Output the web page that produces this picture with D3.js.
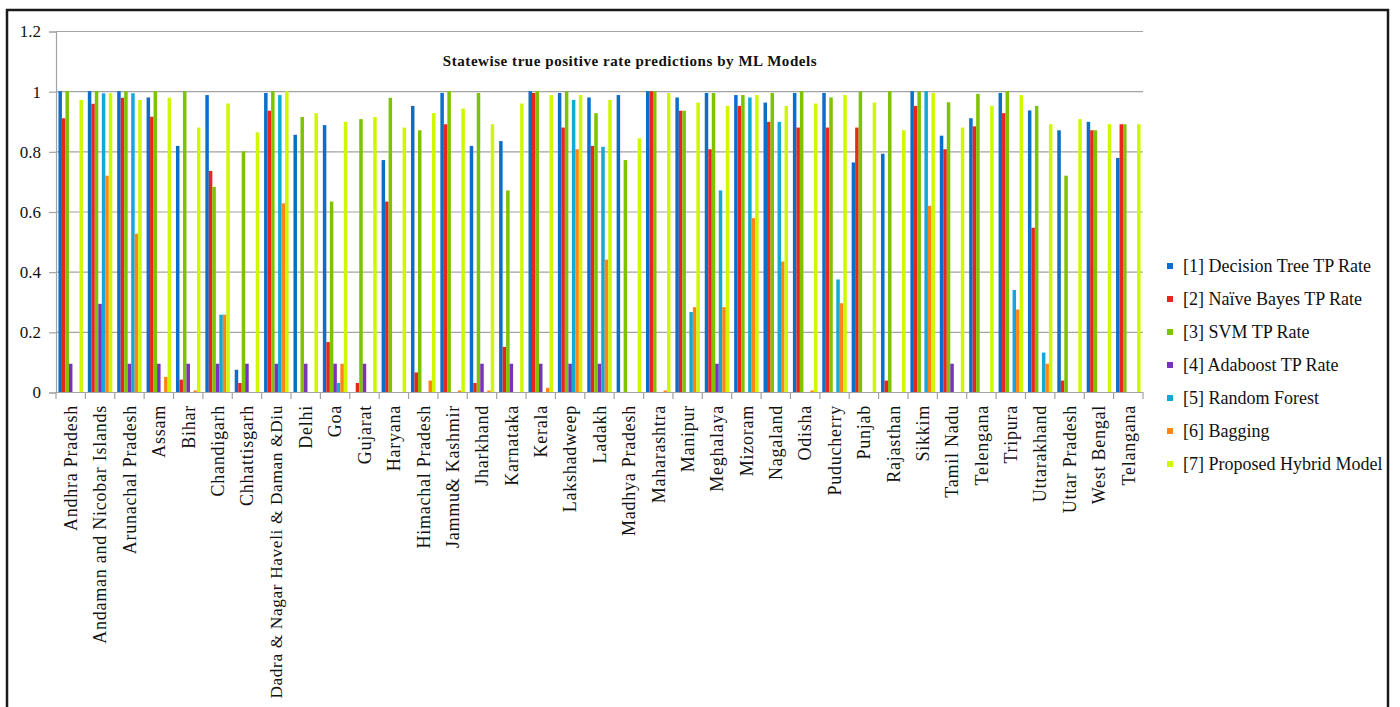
<!DOCTYPE html>
<html>
<head>
<meta charset="utf-8">
<script src="https://cdn.jsdelivr.net/npm/d3@7"></script>
<style>
  body { margin: 0; background: #fff; }
  text { font-family: "Liberation Serif", "DejaVu Serif", serif; fill: #111; }
</style>
</head>
<body>
<div id="my_dataviz"></div>
<script>
// states on the x axis
var categories = ["Andhra Pradesh", "Andaman and Nicobar Islands", "Arunachal Pradesh", "Assam", "Bihar",
  "Chandigarh", "Chhattisgarh", "Dadra & Nagar Haveli & Daman &Diu", "Delhi", "Goa", "Gujarat", "Haryana",
  "Himachal Pradesh", "Jammu& Kashmir", "Jharkhand", "Karnataka", "Kerala", "Lakshadweep", "Ladakh",
  "Madhya Pradesh", "Maharashtra", "Manipur", "Meghalaya", "Mizoram", "Nagaland", "Odisha", "Puducherry",
  "Punjab", "Rajasthan", "Sikkim", "Tamil Nadu", "Telengana", "Tripura", "Uttarakhand", "Uttar Pradesh",
  "West Bengal", "Telangana"];

var seriesNames = ["[1] Decision Tree TP Rate", "[2] Naïve Bayes TP Rate", "[3] SVM TP Rate",
  "[4] Adaboost TP Rate", "[5] Random Forest", "[6] Bagging", "[7] Proposed Hybrid Model"];

var seriesColors = ["#0b6fca", "#e8261d", "#7ec300", "#7a32b8", "#13a9d2", "#ff8418", "#cdf800"];

var yTicks = [0, 0.2, 0.4, 0.6, 0.8, 1, 1.2];

// TP rates per model, one value per state
var dtRate = [1.0, 1.0, 1.0, 0.979, 0.818, 0.987, 0.074, 0.994, 0.855, 0.887, 0, 0.771, 0.951, 0.994, 0.818,
  0.834, 1.0, 0.994, 0.979, 0.987, 1.0, 0.979, 0.994, 0.987, 0.962, 0.994, 0.994, 0.763, 0.792, 1.0, 0.852,
  0.910, 0.994, 0.936, 0.870, 0.898, 0.778];
var nbRate = [0.910, 0.958, 0.978, 0.915, 0.041, 0.735, 0.03, 0.935, 0, 0.166, 0.03, 0.633, 0.065, 0.890, 0.03,
  0.150, 0.994, 0.879, 0.818, 0, 1.0, 0.935, 0.807, 0.951, 0.898, 0.879, 0.879, 0.879, 0.038, 0.951, 0.807,
  0.883, 0.927, 0.546, 0.038, 0.870, 0.890];
var svmRate = [1.0, 1.0, 1.0, 1.0, 1.0, 0.682, 0.8, 1.0, 0.914, 0.633, 0.907, 0.978, 0.870, 1.0, 0.994, 0.670,
  1.0, 1.0, 0.927, 0.771, 1.0, 0.935, 0.994, 0.987, 0.994, 1.0, 0.979, 1.0, 1.0, 1.0, 0.963, 0.991, 1.0,
  0.951, 0.719, 0.870, 0.890];
var adaRate = [0.094, 0.293, 0.094, 0.094, 0.094, 0.094, 0.094, 0.094, 0.094, 0.094, 0.094, 0, 0, 0, 0.094,
  0.094, 0.094, 0.094, 0.094, 0, 0, 0, 0.094, 0, 0, 0, 0, 0, 0, 0, 0.094, 0, 0, 0, 0, 0, 0];
var rfRate = [0, 0.993, 0.993, 0, 0, 0.257, 0, 0.987, 0, 0.03, 0, 0, 0, 0, 0, 0, 0, 0.971, 0.815, 0, 0, 0.266,
  0.670, 0.979, 0.898, 0, 0.374, 0, 0, 1.0, 0, 0, 0.339, 0.131, 0, 0, 0];
var bagRate = [0, 0.719, 0.526, 0.05, 0.005, 0.257, 0, 0.627, 0, 0.094, 0, 0, 0.038, 0.005, 0.005, 0, 0.014,
  0.807, 0.44, 0, 0.005, 0.282, 0.282, 0.578, 0.434, 0.005, 0.295, 0, 0, 0.619, 0, 0, 0.274, 0.094, 0, 0, 0];
var hybridRate = [0.971, 0.993, 0.971, 0.978, 0.879, 0.959, 0.863, 1.0, 0.927, 0.898, 0.914, 0.879, 0.927,
  0.942, 0.890, 0.959, 0.987, 0.987, 0.971, 0.843, 0.994, 0.962, 0.951, 0.987, 0.951, 0.959, 0.987, 0.962,
  0.870, 0.994, 0.879, 0.951, 0.987, 0.890, 0.907, 0.890, 0.890];

var allRates = [dtRate, nbRate, svmRate, adaRate, rfRate, bagRate, hybridRate];

// one row per state, one column per model
var rows = categories.map(function(c, i) {
  return { state: c, values: seriesNames.map(function(s, k) { return { key: s, value: allRates[k][i] }; }) };
});

var W = 1400, H = 707;
var plot = { left: 56, right: 1143, top: 31, bottom: 392 };

var svg = d3.select("#my_dataviz")
  .append("svg")
    .attr("width", W)
    .attr("height", H);

// outer frame
svg.append("rect")
  .attr("x", 7)
  .attr("y", 10)
  .attr("width", 1381)
  .attr("height", 730)
  .attr("fill", "none")
  .attr("stroke", "#1a1a1a")
  .attr("stroke-width", 2.5);

var x = d3.scaleBand()
  .domain(categories)
  .range([plot.left, plot.right])
  .paddingInner(0.166)
  .paddingOuter(0.083);

var xEdge = d3.scaleBand()
  .domain(categories)
  .range([plot.left, plot.right]);

var xSub = d3.scaleBand()
  .domain(seriesNames)
  .range([0, x.bandwidth()]);

var y = d3.scaleLinear()
  .domain([0, 1.2])
  .range([plot.bottom, plot.top]);

var color = d3.scaleOrdinal()
  .domain(seriesNames)
  .range(seriesColors);

// gridlines
svg.append("g")
  .selectAll("line")
  .data(yTicks)
  .join("line")
    .attr("x1", plot.left)
    .attr("x2", plot.right)
    .attr("y1", function(d) { return y(d) + 0.5; })
    .attr("y2", function(d) { return y(d) + 0.5; })
    .attr("stroke", "#a3a3a3")
    .attr("stroke-width", 1.2);

// y axis
var yAxis = svg.append("g")
  .attr("transform", "translate(" + plot.left + ",0.5)")
  .call(d3.axisLeft(y).tickValues(yTicks).tickFormat(function(d) { return d; }).tickSize(7).tickPadding(8));
yAxis.select(".domain").attr("stroke", "#a3a3a3").attr("stroke-width", 1.2);
yAxis.selectAll(".tick line").attr("stroke", "#a3a3a3").attr("stroke-width", 1.2);
yAxis.selectAll(".tick text")
  .attr("font-family", "Liberation Serif, serif")
  .attr("font-size", "17px")
  .attr("fill", "#111");

// bars
svg.append("g")
  .selectAll("g")
  .data(rows)
  .join("g")
    .attr("transform", function(d) { return "translate(" + x(d.state) + ",0)"; })
  .selectAll("rect")
  .data(function(d) { return d.values; })
  .join("rect")
    .attr("x", function(d) { return xSub(d.key); })
    .attr("y", function(d) { return y(d.value); })
    .attr("width", xSub.bandwidth())
    .attr("height", function(d) { return plot.bottom - y(d.value); })
    .attr("fill", function(d) { return color(d.key); });

// x axis line with ticks at the category edges
svg.append("line")
  .attr("x1", plot.left)
  .attr("x2", plot.right)
  .attr("y1", plot.bottom + 0.5)
  .attr("y2", plot.bottom + 0.5)
  .attr("stroke", "#a3a3a3")
  .attr("stroke-width", 1.2);

svg.append("g")
  .selectAll("line")
  .data(categories.concat(["end"]))
  .join("line")
    .attr("x1", function(d, i) { return plot.left + i * xEdge.step(); })
    .attr("x2", function(d, i) { return plot.left + i * xEdge.step(); })
    .attr("y1", plot.bottom)
    .attr("y2", plot.bottom + 7)
    .attr("stroke", "#a3a3a3")
    .attr("stroke-width", 1.2);

// rotated state labels
var xAxis = svg.append("g")
  .attr("transform", "translate(0," + plot.bottom + ")")
  .call(d3.axisBottom(xEdge).tickSize(0).tickPadding(0));
xAxis.select(".domain").remove();
xAxis.selectAll(".tick text")
  .attr("font-family", "Liberation Serif, serif")
  .attr("font-size", "18px")
  .attr("letter-spacing", "0.75px")
  .attr("fill", "#111")
  .attr("text-anchor", "end")
  .attr("transform", "rotate(-90)")
  .attr("x", -13)
  .attr("y", 0)
  .attr("dy", "0.35em");

// keep the longest label inside the page
var maxLen = H - plot.bottom - 13 - 4;
xAxis.selectAll(".tick text").each(function() {
  var len = this.getComputedTextLength();
  if (len > maxLen) {
    d3.select(this).attr("font-size", (18 * maxLen / len).toFixed(2) + "px").attr("letter-spacing", "0.6px");
  }
});

// title
svg.append("text")
  .attr("x", 630)
  .attr("y", 66)
  .attr("text-anchor", "middle")
  .attr("font-size", "15px")
  .attr("letter-spacing", "0.55px")
  .attr("font-weight", "bold")
  .text("Statewise true positive rate predictions by ML Models");

// legend
var legend = svg.append("g")
  .selectAll("g")
  .data(seriesNames)
  .join("g")
    .attr("transform", function(d, i) { return "translate(1167," + (266 + i * 33) + ")"; });

legend.append("rect")
  .attr("x", 0)
  .attr("y", -3)
  .attr("width", 6)
  .attr("height", 6)
  .attr("fill", function(d) { return color(d); });

legend.append("text")
  .attr("x", 16)
  .attr("y", 0)
  .attr("dy", "0.35em")
  .attr("font-size", "18px")
  .text(function(d) { return d; });
</script>
</body>
</html>
